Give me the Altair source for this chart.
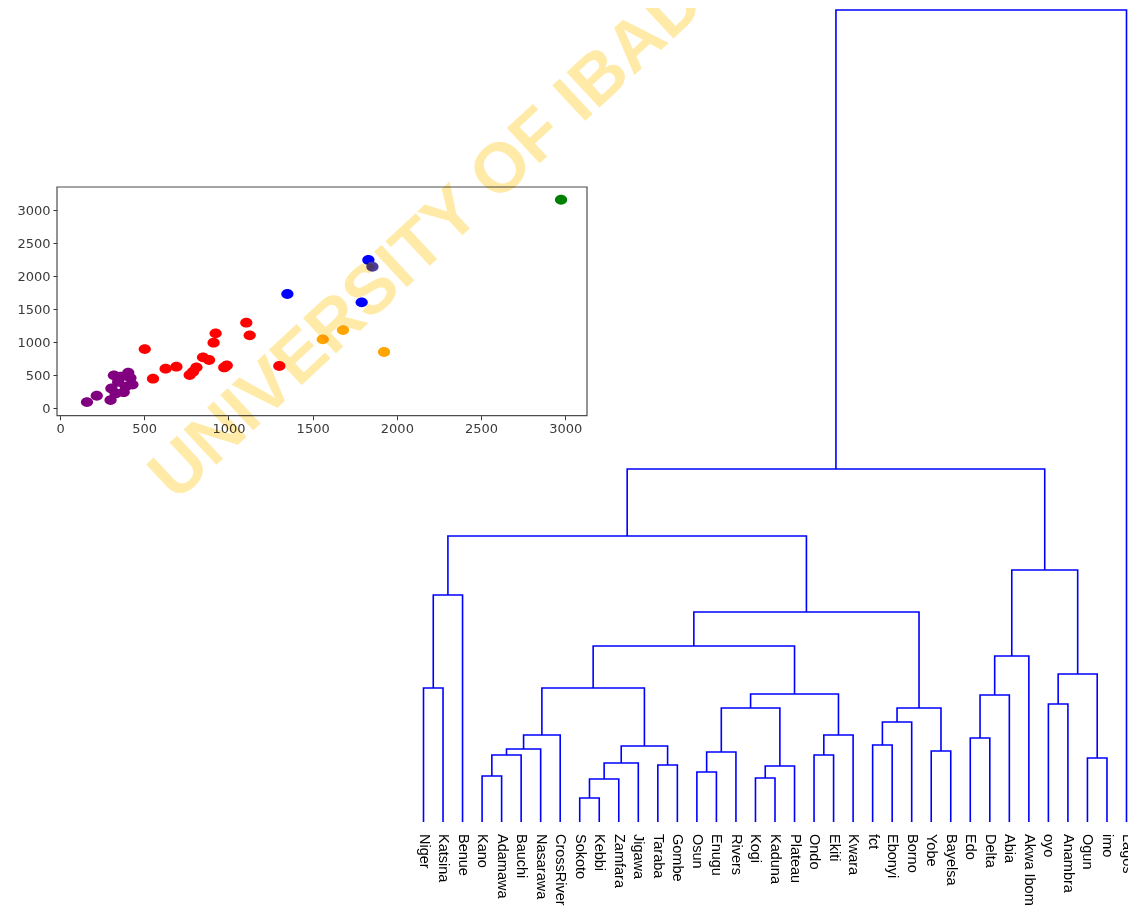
import altair as alt
import pandas as pd

# ---------------- dendrogram data ----------------
leaves = ["Niger", "Katsina", "Benue", "Kano", "Adamawa", "Bauchi", "Nasarawa",
          "CrossRiver", "Sokoto", "Kebbi", "Zamfara", "Jigawa", "Taraba", "Gombe",
          "Osun", "Enugu", "Rivers", "Kogi", "Kaduna", "Plateau", "Ondo", "Ekiti",
          "Kwara", "fct", "Ebonyi", "Borno", "Yobe", "Bayelsa", "Edo", "Delta",
          "Abia", "Akwa Ibom", "oyo", "Anambra", "Ogun", "imo", "Lagos"]

merge_left = ["Sokoto", "Kano", "m0", "Kogi", "Osun", "Taraba", "m3", "Ogun",
              "m2", "m1", "Ondo", "m4", "Yobe", "m9", "m8", "fct", "Edo", "m13",
              "m10", "m15", "m11", "m19", "oyo", "m16", "m20", "Niger", "m17",
              "m23", "m22", "m26", "m29", "m25", "m27", "m31", "m33", "m34"]
merge_right = ["Kebbi", "Adamawa", "Zamfara", "Kaduna", "Enugu", "Gombe", "Plateau",
               "imo", "Jigawa", "Bauchi", "Ekiti", "Rivers", "Bayelsa", "Nasarawa",
               "m5", "Ebonyi", "Delta", "CrossRiver", "Kwara", "Borno", "m6", "m12",
               "Anambra", "Abia", "m18", "Katsina", "m14", "Akwa Ibom", "m7", "m24",
               "m21", "Benue", "m28", "m30", "m32", "Lagos"]
merge_height = [24, 46, 43, 44, 50, 57, 56, 64, 59, 67, 67, 70, 71, 73, 76, 77, 84,
                87, 87, 100, 114, 114, 118, 127, 128, 134, 134, 166, 148, 176, 210,
                227, 252, 286, 353, 812]

# ---------------- scatter data ----------------
scatter_x = [160, 218, 300, 305, 320, 330, 378, 390, 405, 418, 430, 360, 345,
             503, 552, 627, 691, 770, 790, 810, 849, 885, 912, 924, 975, 990, 1106, 1126, 1302,
             1350, 1791, 1831,
             1855,
             1560, 1680, 1924,
             2975]
scatter_y = [95, 190, 125, 300, 500, 225, 245, 330, 540, 460, 360, 480, 400,
             898, 449, 600, 631, 505, 555, 621, 772, 732, 994, 1136, 620, 650, 1297, 1106, 641,
             1732, 1606, 2247,
             2145,
             1045, 1186, 853,
             3160]
scatter_cluster = ["c0"] * 13 + ["c1"] * 16 + ["c2"] * 3 + ["c3"] + ["c4"] * 3 + ["c5"]
cluster_names = ["c0", "c1", "c2", "c3", "c4", "c5"]
cluster_colors = ["#800080", "#ff0000", "#0000ff", "#4b3c9e", "#ffa500", "#008000"]

x_ticks = [0, 500, 1000, 1500, 2000, 2500, 3000]
y_ticks = [0, 500, 1000, 1500, 2000, 2500, 3000]
x_extent = [-18, 3129]
y_extent = [-112, 3353]

watermark_text = ["UNIVERSITY OF IBADAN"]
watermark_x = [2399]
watermark_y = [3080]

# ---------------- build dendrogram link paths ----------------
pos = {name: (float(i), 0.0) for i, name in enumerate(leaves)}
rows = []
for i, (a, b, h) in enumerate(zip(merge_left, merge_right, merge_height)):
    xa, ha = pos[a]
    xb, hb = pos[b]
    for k, (px, py) in enumerate([(xa, ha), (xa, h), (xb, h), (xb, hb)]):
        rows.append({"link": i, "k": k, "x": px, "h": py})
    pos[f"m{i}"] = ((xa + xb) / 2.0, float(h))
link_df = pd.DataFrame(rows)
leaf_df = pd.DataFrame({"name": leaves, "x": list(range(len(leaves))), "h": [0] * len(leaves)})

dx = alt.Scale(domain=[0, len(leaves) - 1], range=[415.5, 1118.5], nice=False, zero=False)
dy = alt.Scale(domain=[0, 812], range=[814, 2], nice=False, zero=False)

dendro_lines = alt.Chart(link_df).mark_line(color="#0000ff", strokeWidth=1.6).encode(
    x=alt.X("x:Q", scale=dx, axis=None),
    y=alt.Y("h:Q", scale=dy, axis=None),
    detail="link:N",
    order="k:Q",
)
dendro_labels = alt.Chart(leaf_df).mark_text(
    angle=90, align="left", baseline="middle", dx=12,
    font="Liberation Sans", fontSize=14.5, color="black",
).encode(
    x=alt.X("x:Q", scale=dx, axis=None),
    y=alt.Y("h:Q", scale=dy, axis=None),
    text="name:N",
)
dendro = alt.layer(dendro_lines, dendro_labels)

# ---------------- scatter inset ----------------
sc_df = pd.DataFrame({"x": scatter_x, "y": scatter_y, "cluster": scatter_cluster})
sx = alt.Scale(domain=x_extent, range=[49, 579], nice=False, zero=False)
sy = alt.Scale(domain=y_extent, range=[407.7, 179], nice=False, zero=False)

ax_common = dict(domain=False, grid=False, tickSize=4, tickColor="#333333",
                 labelFont="DejaVu Sans", labelFontSize=13, labelColor="#3a3a3a",
                 title=None, labelPadding=3, labelFlush=False, format="d")

ellipse = "M-1,0 A1,0.8 0 1,0 1,0 A1,0.8 0 1,0 -1,0 Z"
points = alt.Chart(sc_df).mark_point(shape=ellipse, filled=True, opacity=1, size=150).encode(
    x=alt.X("x:Q", scale=sx,
            axis=alt.Axis(orient="bottom", offset=-498.3, values=x_ticks, **ax_common)),
    y=alt.Y("y:Q", scale=sy,
            axis=alt.Axis(orient="left", offset=-49, values=y_ticks, **ax_common)),
    color=alt.Color("cluster:N", scale=alt.Scale(domain=cluster_names, range=cluster_colors),
                    legend=None),
)

frame_df = pd.DataFrame({"x1": [x_extent[0]], "x2": [x_extent[1]],
                         "y1": [y_extent[0]], "y2": [y_extent[1]]})
frame = alt.Chart(frame_df).mark_rect(fillOpacity=0, stroke="#4d4d4d", strokeWidth=1.2).encode(
    x=alt.X("x1:Q", scale=sx), x2="x2:Q",
    y=alt.Y("y1:Q", scale=sy), y2="y2:Q",
)

wm_df = pd.DataFrame({"t": watermark_text, "x": watermark_x, "y": watermark_y})
watermark = alt.Chart(wm_df).mark_text(
    angle=317, align="center", baseline="middle", font="Liberation Sans",
    fontWeight="bold", fontSize=70, color="#ffeaa8", blend="multiply",
).encode(
    x=alt.X("x:Q", scale=sx),
    y=alt.Y("y:Q", scale=sy),
    text="t:N",
)

inset = alt.layer(frame, points, watermark)

chart = alt.layer(dendro, inset).resolve_scale(
    x="independent", y="independent"
).properties(
    width=1120, height=906, autosize="none", padding=0
).configure_view(stroke=None)

chart.save("out.html", embed_options={"renderer": "svg", "actions": False})
